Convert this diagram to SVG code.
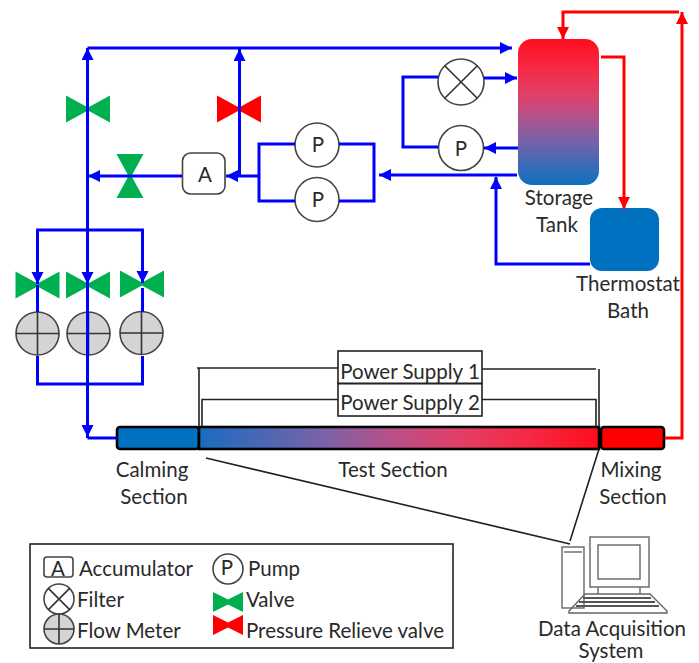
<svg xmlns="http://www.w3.org/2000/svg" width="699" height="663" viewBox="0 0 699 663">
<style>
text{font-family:"Lato","Liberation Sans",sans-serif;font-size:20.5px;fill:#2a2a2a}
.m{text-anchor:middle}
.c{fill:#fff;stroke:#444;stroke-width:1.6}
.g{fill:#00b050}.r{fill:#f00}
.fm{fill:#d4d4d4;stroke:#444;stroke-width:1.6}
.x{stroke:#333;stroke-width:1.6;fill:none}
.b{fill:none;stroke:#00f;stroke-width:3}
.h{fill:none;stroke:#f00;stroke-width:3}
.k{fill:none;stroke:#222;stroke-width:1.6}
.sec{stroke:#000;stroke-width:2.6}
.pc{fill:none;stroke:#666;stroke-width:1.4}
</style>
<defs>
<linearGradient id="tankG" x1="0" y1="0" x2="0" y2="1"><stop offset="0" stop-color="#ff0d1e"/><stop offset=".2" stop-color="#f52a45"/><stop offset=".38" stop-color="#e04068"/><stop offset=".52" stop-color="#b85088"/><stop offset=".69" stop-color="#7a62a8"/><stop offset="1" stop-color="#0c70c0"/></linearGradient>
<linearGradient id="testG" x1="0" y1="0" x2="1" y2="0"><stop offset="0" stop-color="#1a6cc0"/><stop offset=".31" stop-color="#7a62a8"/><stop offset=".48" stop-color="#b85088"/><stop offset=".645" stop-color="#e04068"/><stop offset=".81" stop-color="#f52a45"/><stop offset="1" stop-color="#ff0d1e"/></linearGradient>
<marker id="ab" markerUnits="userSpaceOnUse" markerWidth="13" markerHeight="13" refX="12" refY="6" orient="auto"><path d="M0 0L12 6L0 12Z" fill="#00f"/></marker>
<marker id="ar" markerUnits="userSpaceOnUse" markerWidth="13" markerHeight="13" refX="12" refY="6" orient="auto"><path d="M0 0L12 6L0 12Z" fill="#f00"/></marker>
<path id="vh" d="M-22-13.500L0-1.500L22-13.500V13.500L0 1.500L-22 13.500Z"/>
<path id="vv" d="M-13.500-22H13.500L1.500 0L13.500 22H-13.500L-1.500 0Z"/>
<g id="meter"><circle r="21.5" class="fm"/><path d="M-21.500 0H21.500M0-21.500V21.500" class="x"/></g>
</defs>

<g id="storage-tank"><rect x="518" y="39" width="81" height="146" rx="14" fill="url(#tankG)"/><text class="m" x="559" y="205">Storage</text><text class="m" x="557" y="232">Tank</text></g>
<g id="thermostat-bath"><rect x="590" y="208" width="69" height="63" rx="12" fill="#0070c0"/><text class="m" x="628" y="291">Thermostat</text><text class="m" x="628" y="318">Bath</text></g>
<g id="valve-top"><use href="#vh" x="88" y="109" class="g"/></g>
<g id="valve-relief"><use href="#vh" x="239" y="109" class="r"/></g>
<g id="valve-branch"><use href="#vv" x="130" y="176" class="g"/></g>
<g id="valve-1"><use href="#vh" x="37.5" y="285" class="g"/></g>
<g id="valve-2"><use href="#vh" x="88" y="285" class="g"/></g>
<g id="valve-3"><use href="#vh" x="142" y="284" class="g"/></g>
<g id="meter-1"><use href="#meter" x="37.5" y="333.5"/></g>
<g id="meter-2"><use href="#meter" x="88.5" y="333.5"/></g>
<g id="meter-3"><use href="#meter" x="141.5" y="333"/></g>
<g id="accumulator"><rect x="182.5" y="153" width="42.5" height="41" rx="8" class="c"/><text class="m" x="205" y="182">A</text></g>
<g id="pump-1"><circle cx="317" cy="145" r="22" class="c"/><text class="m" x="318" y="152">P</text></g>
<g id="pump-2"><circle cx="317" cy="199.500" r="22" class="c"/><text class="m" x="318" y="207">P</text></g>
<g id="filter"><circle cx="461" cy="82" r="23" class="c"/><path d="M444.700 65.700L477.300 98.300M477.300 65.700L444.700 98.300" class="x"/></g>
<g id="pump-3"><circle cx="461" cy="148" r="22.500" class="c"/><text class="m" x="461" y="156">P</text></g>

<g id="calming-section"><rect x="117" y="427" width="82" height="22" rx="3" fill="#0070c0" class="sec"/><text class="m" x="152" y="477">Calming</text><text class="m" x="154" y="504">Section</text></g>
<g id="test-section"><rect x="199" y="427" width="400" height="22" fill="url(#testG)" class="sec"/><text class="m" x="393" y="477">Test Section</text></g>
<g id="mixing-section"><rect x="601" y="427" width="63" height="22" rx="3" fill="#f00" class="sec"/><text class="m" x="631" y="477">Mixing</text><text class="m" x="633" y="504">Section</text></g>
<g id="power-supply-1"><rect x="338" y="351" width="144" height="32.500" fill="#fff" class="k"/><text class="m" x="410" y="379">Power Supply 1</text></g>
<g id="power-supply-2"><rect x="338" y="383.500" width="144" height="32.500" fill="#fff" class="k"/><text class="m" x="410" y="410">Power Supply 2</text></g>

<g id="data-acquisition-system">
<rect x="562" y="547" width="22" height="61" class="pc"/><path d="M564 552H582" class="pc" stroke-width="2"/>
<rect x="590" y="537" width="59" height="50" class="pc"/><rect x="598" y="545" width="42" height="34" class="pc"/>
<path d="M598 587V594M640 587V594" class="pc"/>
<path d="M585 594H650L667 611V613H569V611Z" class="pc"/>
<path d="M583 598H651M579 602H655M576 606H659" stroke="#555" stroke-width="2" fill="none"/>
<text class="m" x="612" y="636">Data Acquisition</text><text class="m" x="611" y="658">System</text>
</g>

<g id="connectors">
<path class="b" d="M87.500 48H512" marker-end="url(#ab)"/>
<path class="b" d="M87.500 438V48" marker-end="url(#ab)"/>
<path class="b" d="M87.500 230V284" marker-end="url(#ab)"/>
<path class="b" d="M37.500 283V230H142.500V283" marker-end="url(#ab)"/>
<path class="b" d="M37.500 272V284" marker-end="url(#ab)"/>
<path class="b" d="M37.500 285V312M87.500 285V312M142.500 288V312"/>
<path class="b" d="M37.500 356V384H142.500V356"/>
<path class="b" d="M87.500 384V437" marker-end="url(#ab)"/>
<path class="b" d="M87.500 438H117"/>
<path class="b" d="M239.500 176V49" marker-end="url(#ab)"/>
<path class="b" d="M182 176H88" marker-end="url(#ab)"/>
<path class="b" d="M259 176H226" marker-end="url(#ab)"/>
<path class="b" d="M295 144H259V201H295M339 144H374V201H339"/>
<path class="b" d="M517 175H379" marker-end="url(#ab)"/>
<path class="b" d="M590 264H496V177" marker-end="url(#ab)"/>
<path class="b" d="M438 77H403V147H438"/>
<path class="b" d="M484 78H517" marker-end="url(#ab)"/>
<path class="b" d="M518 148H484" marker-end="url(#ab)"/>
<path class="h" d="M601 57H624V209" marker-end="url(#ar)"/>
<path class="h" d="M679 12H563V39" marker-end="url(#ar)"/>
<path class="h" d="M665 438H682V12" marker-end="url(#ar)"/>
<path class="k" d="M338 368H197M199 368V427M338 399.500H202V427M482 369H596M599 369V427M482 399.500H596V427"/>
<path class="k" d="M206 458L570 544M599 449L570 541"/>
</g>

<g id="legend">
<rect x="30" y="544" width="423" height="104" fill="none" stroke="#222" stroke-width="1.6"/>
<rect x="44" y="557" width="29" height="20" rx="3" class="c"/><text class="m" x="58" y="576">A</text><text x="79" y="576">Accumulator</text>
<circle cx="228" cy="569" r="15" class="c"/><text class="m" x="227" y="575">P</text><text x="248" y="576">Pump</text>
<circle cx="59" cy="599" r="15" class="c"/><path d="M48.400 588.400L69.600 609.600M69.600 588.400L48.400 609.600" class="x"/><text x="77" y="607">Filter</text>
<path d="M213 592L228 599.500L243 592V612L228 604.500L213 612Z" class="g"/><text x="246" y="607">Valve</text>
<circle cx="59" cy="629" r="15" class="fm"/><path d="M44 629H74M59 614V644" class="x"/><text x="77" y="638">Flow Meter</text>
<path d="M213 615L228 622.500L243 615V635L228 627.500L213 635Z" class="r"/><text x="246" y="638">Pressure Relieve valve</text>
</g>
</svg>
